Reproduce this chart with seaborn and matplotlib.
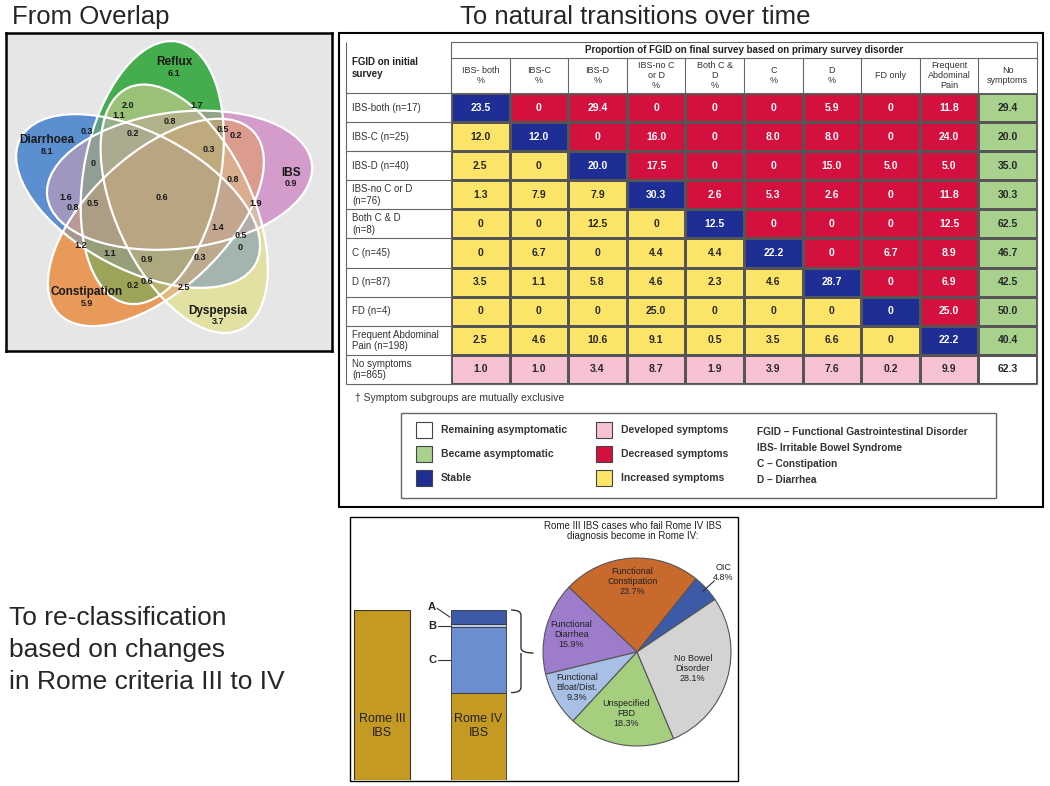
import numpy as np
import matplotlib
matplotlib.use("Agg")
import matplotlib.pyplot as plt
import seaborn as sns
from matplotlib.colors import ListedColormap, to_rgb
from matplotlib.patches import Ellipse, Rectangle, PathPatch
from matplotlib.path import Path

sns.set_theme(style="white")
plt.rcParams["font.family"] = ["Liberation Sans", "DejaVu Sans"]

W, H = 1050, 786

# ---------------- data ----------------
# five-set overlap (percent of population)
venn_sets = ["Diarrhoea", "Reflux", "IBS", "Dyspepsia", "Constipation"]
venn_only = [8.1, 6.1, 0.9, 3.7, 5.9]
venn_overlap = [2.0, 1.7, 1.1, 0.8, 0.3, 0.2, 0.5, 0.2, 0.3, 0.0, 0.8, 0.6, 1.6,
                0.8, 0.5, 1.9, 1.4, 0.5, 0.0, 1.2, 1.1, 0.9, 0.3, 0.2, 0.6, 2.5]

# transition table
initial_groups = ["IBS-both (n=17)", "IBS-C (n=25)", "IBS-D (n=40)",
                  "IBS-no C or D\n(n=76)", "Both C & D\n(n=8)", "C (n=45)",
                  "D (n=87)", "FD (n=4)", "Frequent Abdominal\nPain (n=198)",
                  "No symptoms\n(n=865)"]
final_groups = ["IBS- both\n%", "IBS-C\n%", "IBS-D\n%", "IBS-no C\nor D\n%",
                "Both C &\nD\n%", "C\n%", "D\n%", "FD only",
                "Frequent\nAbdominal\nPain", "No\nsymptoms"]
transition_pct = [
    [23.5, 0, 29.4, 0, 0, 0, 5.9, 0, 11.8, 29.4],
    [12.0, 12.0, 0, 16.0, 0, 8.0, 8.0, 0, 24.0, 20.0],
    [2.5, 0, 20.0, 17.5, 0, 0, 15.0, 5.0, 5.0, 35.0],
    [1.3, 7.9, 7.9, 30.3, 2.6, 5.3, 2.6, 0, 11.8, 30.3],
    [0, 0, 12.5, 0, 12.5, 0, 0, 0, 12.5, 62.5],
    [0, 6.7, 0, 4.4, 4.4, 22.2, 0, 6.7, 8.9, 46.7],
    [3.5, 1.1, 5.8, 4.6, 2.3, 4.6, 28.7, 0, 6.9, 42.5],
    [0, 0, 0, 25.0, 0, 0, 0, 0, 25.0, 50.0],
    [2.5, 4.6, 10.6, 9.1, 0.5, 3.5, 6.6, 0, 22.2, 40.4],
    [1.0, 1.0, 3.4, 8.7, 1.9, 3.9, 7.6, 0.2, 9.9, 62.3],
]
change_labels = ["Remaining asymptomatic", "Became asymptomatic", "Stable",
                 "Developed symptoms", "Decreased symptoms", "Increased symptoms"]
abbreviations = ["FGID \u2013 Functional Gastrointestinal Disorder",
                 "IBS- Irritable Bowel Syndrome", "C \u2013 Constipation",
                 "D \u2013 Diarrhea"]

# Rome III -> Rome IV
rome_bars = ["Rome III\nIBS", "Rome IV\nIBS"]
rome3_share = [100]
rome4_parts = ["", "C", "B", "A"]
rome4_share = [51.4, 38.4, 1.8, 8.4]
pie_labels = ["OIC", "Functional\nConstipation", "Functional\nDiarrhea",
              "Functional\nBloat/Dist.", "Unspecified\nFBD", "No Bowel\nDisorder"]
pie_pct = [4.8, 23.7, 15.9, 9.3, 18.3, 28.1]

# ---------------- styling ----------------
petal_colors = ["#5b8fd0", "#45ad4d", "#d49ccb", "#e2e1a2", "#e89a5a"]
core_tan = "#c9a274"
cat_colors = ["#ffffff", "#a9d18e", "#1f2e95", "#f6c1d2", "#d4113e", "#fbe467"]
gold = "#c49a22"
rome4_colors = [gold, "#6b8ed0", "#b8cdeb", "#3d5aa6"]
pie_colors = ["#3d5aa6", "#c8692e", "#9d7ccc", "#a8c0e6", "#a5cf7f", "#d3d3d3"]


def fmt(v):
    return "0" if v == 0 else f"{v:.1f}"


fig = plt.figure(figsize=(W / 100, H / 100), dpi=100)


def px_axes(x0, y0, w, h):
    return fig.add_axes([x0 / W, 1 - (y0 + h) / H, w / W, h / H])


# overlay in pixel coordinates for titles, frames and legend
ov = px_axes(0, 0, W, H)
ov.set_xlim(0, W)
ov.set_ylim(H, 0)
ov.axis("off")


def frame(x0, y0, x1, y1, **kw):
    ov.add_patch(Rectangle((x0, y0), x1 - x0, y1 - y0, fill=False, **kw))


ov.text(12, 17, "From Overlap", fontsize=18.5, va="center")
ov.text(635, 17, "To natural transitions over time", fontsize=18.5,
        va="center", ha="center")
for i, line in enumerate(["To re-classification", "based on changes",
                          "in Rome criteria III to IV"]):
    ov.text(9, 618 + 32 * i, line, fontsize=19, va="center")

# ---------------- Venn ----------------
cx, cy = 162, 197
vax = px_axes(6, 33, 326, 318)
vax.set_facecolor("#e6e6e6")
for s in vax.spines.values():
    s.set_color("black")
    s.set_linewidth(1.8)
vax.set_xticks([])
vax.set_yticks([])

ell_centers = [(0.428, 0.449), (0.469, 0.543), (0.558, 0.523),
               (0.578, 0.432), (0.489, 0.383)]
ell_angles = [155, 82, 10, 118, 46]
scale, rot = 310, np.deg2rad(-3)
a_ax, b_ax = 0.43 * scale, 0.22 * scale

xs = np.linspace(6 - cx, 332 - cx, 660)
ys = np.linspace(cy - 351, cy - 33, 640)
X, Y = np.meshgrid(xs, ys)
count = np.zeros_like(X)
rgb = np.zeros(X.shape + (3,))
ells = []
for (ex, ey), ang, col in zip(ell_centers, ell_angles, petal_colors):
    dx0, dy0 = (ex - 0.5044) * scale, (ey - 0.466) * scale
    ecx = dx0 * np.cos(rot) - dy0 * np.sin(rot)
    ecy = dx0 * np.sin(rot) + dy0 * np.cos(rot)
    t = np.deg2rad(ang) + rot
    u = (X - ecx) * np.cos(t) + (Y - ecy) * np.sin(t)
    v = -(X - ecx) * np.sin(t) + (Y - ecy) * np.cos(t)
    inside = (u / a_ax) ** 2 + (v / b_ax) ** 2 <= 1
    count += inside
    rgb += inside[..., None] * np.array(to_rgb(col))
    ells.append((ecx, ecy, np.rad2deg(t)))

img = np.zeros(X.shape + (4,))
nz = count > 0
w_tan = (0.14 * (count[nz] - 1))[:, None]
img[nz, :3] = (rgb[nz] / count[nz, None]) * (1 - w_tan) + np.array(to_rgb(core_tan)) * w_tan
img[..., 3] = nz
vax.imshow(img, extent=(xs[0], xs[-1], ys[0], ys[-1]), origin="lower",
           aspect="auto", interpolation="bilinear", zorder=1)
for ecx, ecy, ang in ells:
    vax.add_patch(Ellipse((ecx, ecy), 2 * a_ax, 2 * b_ax, angle=ang,
                          fill=False, ec="white", lw=1.6, zorder=2))
vax.set_xlim(xs[0], xs[-1])
vax.set_ylim(ys[0], ys[-1])

name_pos = [(47, 140), (174, 62), (291, 173), (218, 311), (87, 292)]
for name, val, (px, py) in zip(venn_sets, venn_only, name_pos):
    vax.text(px - cx, cy - py, name, fontsize=8.5, fontweight="bold",
             ha="center", va="center", color="#1a1a1a", zorder=3)
    vax.text(px - cx, cy - py - 11, fmt(val), fontsize=6.5, fontweight="bold",
             ha="center", va="center", color="#1a1a1a", zorder=3)

overlap_pos = [(128, 106), (197, 106), (119, 116), (170, 122), (87, 132),
               (133, 133), (223, 130), (236, 135), (209, 149), (93, 163),
               (233, 179), (162, 197), (66, 197), (73, 208), (93, 203),
               (256, 203), (218, 228), (241, 236), (240, 247), (81, 246),
               (110, 253), (147, 260), (200, 258), (133, 285), (147, 282),
               (184, 287)]
for val, (px, py) in zip(venn_overlap, overlap_pos):
    vax.text(px - cx, cy - py, fmt(val), fontsize=6.5, fontweight="bold",
             ha="center", va="center", color="#1a1a1a", zorder=3)

# ---------------- transition table ----------------
frame(339, 33, 1043, 507, ec="black", lw=1.5)
n = len(initial_groups)
rows, cols = np.indices((n, n))
codes = np.where(rows == cols, 2, np.where(cols > rows, 4, 5))
codes[:, -1] = 1
codes[-1, :] = 3
codes[-1, -1] = 0
annot = np.array([[fmt(v) for v in row] for row in transition_pct])

hax = px_axes(451, 93, 586, 291)
sns.heatmap(codes, cmap=ListedColormap(cat_colors), vmin=-0.5, vmax=5.5,
            annot=annot, fmt="", annot_kws={"fontsize": 7.5, "fontweight": "bold"},
            cbar=False, linewidths=0.8, linecolor="#555555",
            xticklabels=final_groups, yticklabels=initial_groups, ax=hax)
hax.xaxis.tick_top()
hax.tick_params(axis="x", length=0, pad=12.6, labelsize=6.5, colors="#333333")
for lab in hax.get_xticklabels():
    lab.set_rotation(0)
    lab.set_va("center")
    lab.set_ha("center")
    lab.set_multialignment("center")
hax.set_yticklabels(initial_groups, rotation=0, ha="left", fontsize=7,
                    color="#333333")
hax.tick_params(axis="y", length=0, pad=71)

col_w = 586 / n
row_h = 291 / n
hax.vlines(np.arange(1, n), -35 / row_h, 0, colors="#666666", lw=0.8, clip_on=False)
hax.vlines([0, n], -51 / row_h, n, colors="#666666", lw=0.8, clip_on=False)
hax.hlines(np.arange(1, n), -105 / col_w, 0, colors="#666666", lw=0.8, clip_on=False)
hax.hlines([0, n], -105 / col_w, n, colors="#666666", lw=0.8, clip_on=False)
hax.hlines([-35 / row_h, -51 / row_h], 0, n, colors="#666666", lw=0.8, clip_on=False)
hax.vlines(-105 / col_w, -51 / row_h, n, colors="#666666", lw=0.8, clip_on=False)

ov.text(744, 50, "Proportion of FGID on final survey based on primary survey disorder",
        fontsize=7, fontweight="bold", ha="center", va="center", color="#222")
ov.text(352, 57, "FGID on initial\nsurvey", fontsize=7, fontweight="bold",
        va="top", color="#222")
ov.text(355, 398, "\u2020 Symptom subgroups are mutually exclusive",
        fontsize=7.5, va="center", color="#333")

# legend
frame(401, 413, 996, 498, ec="#666666", lw=1)
for k, (lab, col) in enumerate(zip(change_labels, cat_colors)):
    x0 = 416 if k < 3 else 596
    y0 = 430 + 24 * (k % 3)
    ov.add_patch(Rectangle((x0, y0 - 8), 16, 16, fc=col, ec="#444444", lw=0.8))
    ov.text(x0 + 25, y0, lab, fontsize=7.5, fontweight="bold", va="center",
            color="#333")
for k, lab in enumerate(abbreviations):
    ov.text(757, 432 + 16 * k, lab, fontsize=7.3, fontweight="bold",
            va="center", color="#333")

# ---------------- Rome III -> IV ----------------
frame(350, 517, 738, 781, ec="black", lw=1)
bax = px_axes(351, 610, 189, 170)
bax.patch.set_visible(False)
bax.bar([0], rome3_share, width=0.58, color=gold, ec="#333333", lw=0.8)
bottoms = np.concatenate([[0], np.cumsum(rome4_share)[:-1]])
bax.bar(np.ones(len(rome4_share)), rome4_share, bottom=bottoms, width=0.57,
        color=rome4_colors, ec="#333333", lw=0.6)
bax.set_xlim(-0.321, 1.637)
bax.set_ylim(0, 100)
bax.axis("off")
for i, lab in enumerate(rome_bars):
    bax.text(i, 31.8, lab, fontsize=9, ha="center", va="center", color="#222")

tops = np.cumsum(rome4_share)
mids = bottoms + np.array(rome4_share) / 2
bax.text(0.52, tops[-1] + 2, "A", fontsize=8, fontweight="bold", ha="center",
         va="center", clip_on=False)
bax.plot([0.57, 0.705], [tops[-1] + 1, mids[3]], color="#333", lw=0.8, clip_on=False)
for part, y in [("B", mids[2]), ("C", mids[1])]:
    bax.text(0.52, y, part, fontsize=8, fontweight="bold", ha="center", va="center")
    bax.plot([0.58, 0.71], [y, y], color="#333", lw=0.8, clip_on=False)

ytop, ybot = tops[-1], bottoms[1]
ymid = (ytop + ybot) / 2 - 1
xa, xb, xc, r = 1.337, 1.44, 1.57, 3
brace = Path([(xa, ytop), (xb, ytop), (xb, ytop - r), (xb, ymid + r), (xb, ymid),
              (xc, ymid), (xb, ymid), (xb, ymid - r), (xb, ybot + r), (xb, ybot),
              (xa, ybot)],
             [Path.MOVETO, Path.CURVE3, Path.CURVE3, Path.LINETO, Path.CURVE3,
              Path.CURVE3, Path.MOVETO, Path.CURVE3, Path.LINETO, Path.CURVE3,
              Path.CURVE3])
bax.add_patch(PathPatch(brace, fill=False, ec="#333", lw=1, clip_on=False))

ov.text(633, 531, "Rome III IBS cases who fail Rome IV IBS\ndiagnosis become in Rome IV:",
        fontsize=7, ha="center", va="center", color="#222", linespacing=1.1)

pax = px_axes(543, 558, 188, 188)
wedges, _ = pax.pie(pie_pct, colors=pie_colors, startangle=34, counterclock=True,
                    wedgeprops={"edgecolor": "#555555", "linewidth": 0.8})
pax.set_xlim(-1, 1)
pax.set_ylim(-1, 1)
label_r = [1.25, 0.75, 0.72, 0.74, 0.66, 0.62]
for w, lab, pct, lr in zip(wedges, pie_labels, pie_pct, label_r):
    th = np.deg2rad((w.theta1 + w.theta2) / 2)
    pax.text(lr * np.cos(th), lr * np.sin(th), f"{lab}\n{pct}%", fontsize=6.5,
             ha="center", va="center", color="#222", linespacing=1.15)
    if lr > 1:
        pax.plot([0.95 * np.cos(th), 1.12 * np.cos(th)],
                 [0.95 * np.sin(th), 1.12 * np.sin(th)], color="#333", lw=0.8,
                 clip_on=False)

fig.savefig("out.png", dpi=100)
